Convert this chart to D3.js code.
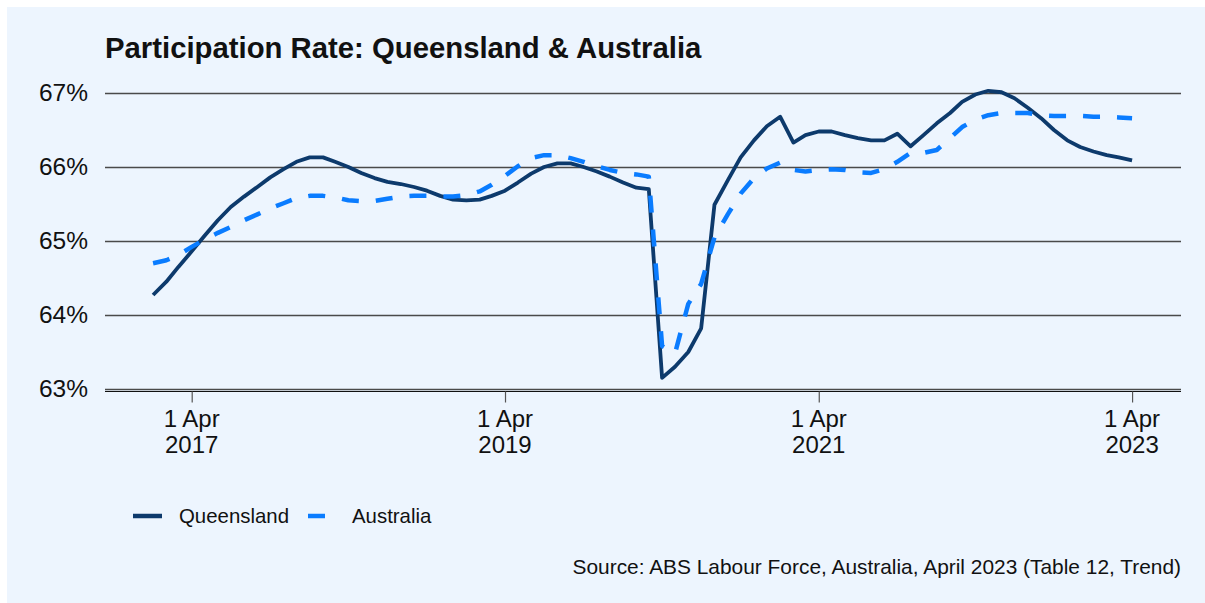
<!DOCTYPE html>
<html>
<head>
<meta charset="utf-8">
<script src="https://cdn.jsdelivr.net/npm/d3@7"></script>
<style>
  body { margin: 0; background: #fff; }
  text { font-family: "Liberation Sans", Arial, sans-serif; }
</style>
</head>
<body>
<div id="chart"></div>
<script>
// Monthly participation rate (trend), Jan 2017 - Apr 2023
const months = d3.timeMonth.range(new Date(2017, 0, 1), new Date(2023, 4, 1));

const queensland = [
  64.27, 64.45, 64.65, 64.86, 65.07, 65.28, 65.46, 65.60, 65.73, 65.86, 65.97, 66.07,
  66.13, 66.13, 66.07, 66.00, 65.92, 65.85, 65.80, 65.77, 65.73, 65.68, 65.61, 65.56,
  65.55, 65.56, 65.61, 65.68, 65.79, 65.91, 66.00, 66.05, 66.05, 66.00, 65.94, 65.87,
  65.79, 65.72, 65.70, 63.15, 63.30, 63.50, 63.82, 65.49, 65.82, 66.13, 66.36, 66.55,
  66.68, 66.33, 66.43, 66.48, 66.48, 66.43, 66.39, 66.36, 66.36, 66.45, 66.28, 66.43,
  66.59, 66.73, 66.88, 66.98, 67.03, 67.01, 66.93, 66.80, 66.66, 66.50, 66.36, 66.27,
  66.21, 66.16, 66.13, 66.09
];

const australia = [
  64.70, 64.74, 64.81, 64.92, 65.02, 65.11, 65.19, 65.28, 65.36, 65.44, 65.51, 65.58,
  65.61, 65.61, 65.59, 65.55, 65.54, 65.54, 65.57, 65.60, 65.61, 65.61, 65.60, 65.60,
  65.62, 65.67, 65.76, 65.88, 66.01, 66.12, 66.16, 66.16, 66.12, 66.07, 66.01, 65.96,
  65.92, 65.90, 65.87, 63.58, 63.48, 64.15, 64.42, 65.05, 65.36, 65.64, 65.85, 65.98,
  66.06, 65.96, 65.94, 65.96, 65.97, 65.96, 65.93, 65.92, 65.97, 66.07, 66.19, 66.19,
  66.23, 66.39, 66.54, 66.64, 66.70, 66.73, 66.73, 66.73, 66.70, 66.69, 66.69, 66.69,
  66.68, 66.68, 66.67, 66.66
];

const yTicks = [63, 64, 65, 66, 67];
const xTicks = [new Date(2017, 3, 1), new Date(2019, 3, 1), new Date(2021, 3, 1), new Date(2023, 3, 1)];

const seriesList = [
  { name: "Queensland", values: queensland, color: "#0d3a6c", width: 3.8, dash: null },
  { name: "Australia", values: australia, color: "#0a7cff", width: 4.5, dash: "17,17" }
];

const width = 1205, height = 603;
const plot = { left: 105, right: 1181, top: 93, bottom: 389 };

const svg = d3.select("#chart").append("svg")
  .attr("width", width)
  .attr("height", height);

// panel background
svg.append("rect")
  .attr("x", 7).attr("y", 7)
  .attr("width", width - 7).attr("height", height - 7)
  .attr("fill", "#edf5fe");

const x = d3.scaleTime()
  .domain([new Date(2016, 8, 11), new Date(2023, 6, 24)])
  .range([plot.left, plot.right]);

const y = d3.scaleLinear()
  .domain([63, 67])
  .range([plot.bottom, plot.top]);

// title
svg.append("text")
  .attr("x", 105).attr("y", 58)
  .attr("font-size", 29.3)
  .attr("font-weight", "bold")
  .attr("fill", "#111")
  .text("Participation Rate: Queensland & Australia");

// y gridlines + labels
const yAxis = svg.append("g")
  .attr("transform", `translate(${plot.left},0)`)
  .call(d3.axisLeft(y)
    .tickValues(yTicks)
    .tickSize(-(plot.right - plot.left))
    .tickPadding(17)
    .tickFormat(d => d + "%"));
yAxis.select(".domain").remove();
yAxis.selectAll(".tick line").attr("stroke", "#4a4a4a").attr("stroke-width", 1.3);
yAxis.selectAll(".tick text")
  .attr("font-size", 24.5)
  .attr("fill", "#111")
  .attr("font-family", "Liberation Sans, Arial, sans-serif");

// x axis (double line at bottom)
svg.append("line")
  .attr("x1", plot.left).attr("x2", plot.right)
  .attr("y1", plot.bottom + 2.5).attr("y2", plot.bottom + 2.5)
  .attr("stroke", "#111").attr("stroke-width", 1.2);

const xAxis = svg.append("g")
  .attr("transform", `translate(0,${plot.bottom + 2.5})`)
  .call(d3.axisBottom(x).tickValues(xTicks).tickSize(11).tickFormat(""));
xAxis.select(".domain").remove();
xAxis.selectAll(".tick line").attr("stroke", "#555").attr("stroke-width", 1.2);

const xLabels = svg.append("g");
xTicks.forEach(d => {
  const t = xLabels.append("text")
    .attr("text-anchor", "middle")
    .attr("font-size", 24)
    .attr("fill", "#111");
  t.append("tspan").attr("x", x(d)).attr("y", 427).text("1 Apr");
  t.append("tspan").attr("x", x(d)).attr("y", 453).text(d.getFullYear());
});

// lines
const line = vals => d3.line()
  .x((d, i) => x(months[i]))
  .y(d => y(d))(vals);

seriesList.forEach(s => {
  svg.append("path")
    .attr("d", line(s.values))
    .attr("fill", "none")
    .attr("stroke", s.color)
    .attr("stroke-width", s.width)
    .attr("stroke-linejoin", "round")
    .attr("stroke-dasharray", s.dash);
});

// legend
const legend = svg.append("g");
legend.append("line")
  .attr("x1", 133).attr("x2", 162).attr("y1", 516).attr("y2", 516)
  .attr("stroke", seriesList[0].color).attr("stroke-width", 4.5);
legend.append("text")
  .attr("x", 179).attr("y", 522.5)
  .attr("font-size", 20.4).attr("fill", "#111")
  .text(seriesList[0].name);
legend.append("line")
  .attr("x1", 308).attr("x2", 325).attr("y1", 516).attr("y2", 516)
  .attr("stroke", seriesList[1].color).attr("stroke-width", 4.5);
legend.append("text")
  .attr("x", 352).attr("y", 522.5)
  .attr("font-size", 20.4).attr("fill", "#111")
  .text(seriesList[1].name);

// source note
svg.append("text")
  .attr("x", 1181).attr("y", 574)
  .attr("text-anchor", "end")
  .attr("font-size", 20.9)
  .attr("fill", "#111")
  .text("Source: ABS Labour Force, Australia, April 2023 (Table 12, Trend)");
</script>
</body>
</html>
